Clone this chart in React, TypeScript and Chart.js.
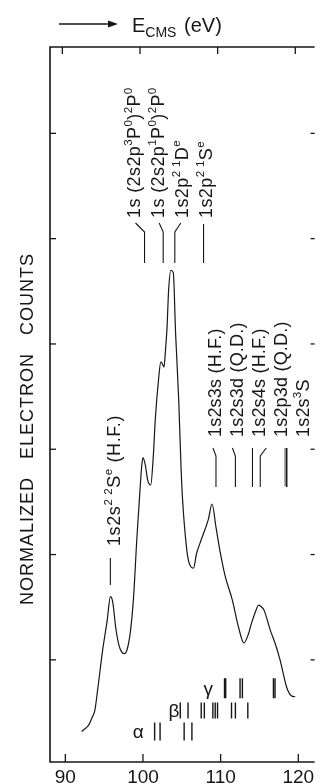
import React, { useEffect, useRef } from "react";
import { Chart, registerables } from "chart.js";

Chart.register(...registerables);

// ---- data ----
const energy = [
  92.1, 92.6, 93.0, 93.5, 93.8, 94.2, 94.8, 95.4, 95.8, 96.1, 96.5, 96.9, 97.3, 97.65,
  98.0, 98.4, 98.8, 99.2, 99.6, 99.85, 100.0, 100.3, 100.6, 101.0, 101.3, 101.6, 102.0,
  102.3, 102.5, 102.7, 102.9, 103.1, 103.3, 103.6, 103.9, 104.2, 104.6, 104.9, 105.1,
  105.6, 105.9, 106.5, 106.9, 107.5, 108.4, 108.9, 109.4, 109.9, 110.6, 111.5, 112.3,
  113.0, 113.6, 113.9, 114.4, 114.9, 115.3, 115.6, 116.4, 117.0, 117.65, 118.5, 119.1, 119.6,
];
const counts = [
  0.32, 0.35, 0.38, 0.46, 0.52, 0.74, 1.09, 1.38, 1.6, 1.55, 1.3, 1.14, 1.07, 1.06,
  1.11, 1.28, 1.61, 2.14, 2.6, 2.85, 2.92, 2.85, 2.71, 2.66, 2.9, 3.3, 3.66,
  3.83, 3.81, 3.78, 3.94, 4.16, 4.51, 4.7, 4.68, 4.1, 3.47, 2.83, 2.52,
  2.07, 1.93, 1.87, 2.01, 2.14, 2.33, 2.48, 2.26, 2.04, 1.79, 1.57, 1.31,
  1.16, 1.25, 1.33, 1.44, 1.52, 1.5, 1.47, 1.28, 1.16, 1.0, 0.74, 0.66, 0.65,
];

const xTicks = [90, 100, 110, 120];
const yTicks = [1, 2, 3, 4, 5, 6];

const alphaLines = [101.5, 102.2, 105.3, 106.3];
const betaLines = [104.8, 105.8, 107.5, 107.9, 109.0, 109.3, 109.6, 111.4, 111.9, 113.5];
const gammaLines = [110.5, 110.65, 112.5, 112.8, 116.8, 117.0];
const rowNames = ["α", "β", "γ"];
const rowLevels = [0.32, 0.52, 0.73];
const rowLabelEnergies = [99.4, 104.0, 108.4];

const upperLevelNames = [
  "1s (2s2p^{3}P^{0})^{2}P^{0}",
  "1s (2s2p^{1}P^{0})^{2}P^{0}",
  "1s2p^{2 1}D^{e}",
  "1s2p^{2 1}S^{e}",
];
const upperLevelEnergies = [100.2, 102.6, 104.1, 107.8];
const lowerLevelNames = [
  "1s2s3s (H.F.)",
  "1s2s3d (Q.D.)",
  "1s2s4s (H.F.)",
  "1s2p3d (Q.D.)",
  "1s2s^{3}S",
];
const lowerLevelEnergies = [109.4, 111.9, 114.1, 115.1, 118.5];
const groundName = "1s2s^{2 2}S^{e} (H.F.)";
const groundEnergy = 95.8;

const xTitle = "E_{CMS} (eV)";
const yTitle = "NORMALIZED   ELECTRON   COUNTS";

// ---- drawing helpers ----
const INK = "#161616";
const FONT = '"Liberation Sans", Arial, sans-serif';

type Seg = { t: string; m: number };
function parseRich(s: string): Seg[] {
  const out: Seg[] = [];
  let buf = "";
  let i = 0;
  while (i < s.length) {
    if ((s[i] === "^" || s[i] === "_") && s[i + 1] === "{") {
      if (buf) {
        out.push({ t: buf, m: 0 });
        buf = "";
      }
      const end = s.indexOf("}", i);
      out.push({ t: s.slice(i + 2, end), m: s[i] === "^" ? 1 : 2 });
      i = end + 1;
    } else {
      buf += s[i];
      i++;
    }
  }
  if (buf) out.push({ t: buf, m: 0 });
  return out;
}

function drawRich(
  ctx: CanvasRenderingContext2D,
  s: string,
  x: number,
  y: number,
  size: number,
  rotate: boolean,
  smallScale = 0.64,
  spacing = 0
) {
  ctx.save();
  ctx.translate(x, y);
  if (rotate) ctx.rotate(-Math.PI / 2);
  ctx.textAlign = "left";
  ctx.textBaseline = "alphabetic";
  (ctx as any).letterSpacing = `${spacing}px`;
  let cx = 0;
  for (const sg of parseRich(s)) {
    const fs = sg.m === 0 ? size : size * smallScale;
    ctx.font = `${fs}px ${FONT}`;
    const dy = sg.m === 1 ? -size * 0.42 : sg.m === 2 ? size * 0.25 : 0;
    ctx.fillText(sg.t, cx, dy);
    cx += ctx.measureText(sg.t).width + (sg.m === 2 ? 2 : 0);
  }
  ctx.restore();
}

function seg(ctx: CanvasRenderingContext2D, pts: number[][]) {
  ctx.beginPath();
  ctx.moveTo(pts[0][0], pts[0][1]);
  for (let i = 1; i < pts.length; i++) ctx.lineTo(pts[i][0], pts[i][1]);
  ctx.stroke();
}

// leader bends (pixel offset of the leader's top end from its level)
const upperBend = [-9, -4, 6, 0];
const lowerBend = [-3, -3, 0, 6, 0];

const paperPlugin = {
  id: "paper",
  afterDatasetsDraw(chart: any) {
    const { ctx, chartArea: a, scales } = chart;
    const x = scales.x;
    const y = scales.y;
    ctx.save();
    ctx.strokeStyle = INK;
    ctx.fillStyle = INK;
    ctx.lineCap = "butt";

    // frame (right side lies outside the picture)
    ctx.lineWidth = 1.6;
    seg(ctx, [
      [a.right, a.top],
      [a.left, a.top],
      [a.left, a.bottom],
      [a.right, a.bottom],
    ]);

    // ticks
    ctx.lineWidth = 1.3;
    for (const t of xTicks) {
      const px = x.getPixelForValue(t);
      seg(ctx, [[px, a.bottom], [px, a.bottom - 8]]);
      seg(ctx, [[px - 3, a.top], [px - 3, a.top + 7]]);
    }
    for (const t of yTicks) {
      const py = y.getPixelForValue(t);
      seg(ctx, [[a.left, py], [a.left + 6, py]]);
      seg(ctx, [[a.right - 4, py], [a.right, py]]);
    }

    // tick labels
    ctx.font = `19px ${FONT}`;
    ctx.textAlign = "center";
    ctx.textBaseline = "alphabetic";
    for (const t of xTicks) {
      ctx.fillText(String(t), x.getPixelForValue(t), a.bottom + 21);
    }

    // x title with arrow
    ctx.lineWidth = 1.3;
    seg(ctx, [[59, 24], [110, 24]]);
    ctx.beginPath();
    ctx.moveTo(118, 24);
    ctx.lineTo(108, 20.5);
    ctx.lineTo(108, 27.5);
    ctx.closePath();
    ctx.fill();
    drawRich(ctx, xTitle, 132, 32, 20, false, 0.7);

    // y title
    ctx.save();
    ctx.translate(33, 429);
    ctx.rotate(-Math.PI / 2);
    ctx.font = `18px ${FONT}`;
    (ctx as any).letterSpacing = "1px";
    ctx.textAlign = "center";
    ctx.textBaseline = "alphabetic";
    ctx.fillText(yTitle, 0, 0);
    ctx.restore();

    // upper level labels + leaders
    ctx.lineWidth = 1.1;
    upperLevelEnergies.forEach((e, i) => {
      const ex = x.getPixelForValue(e);
      const col = 140 + i * 24;
      drawRich(ctx, upperLevelNames[i], col, 218, 18, true, 0.64, 0.4);
      const b = upperBend[i];
      if (b === 0) seg(ctx, [[ex, 224], [ex, 263]]);
      else seg(ctx, [[ex + b, 223], [ex, 232], [ex, 263]]);
    });

    // lower level labels + leaders
    lowerLevelEnergies.forEach((e, i) => {
      const ex = x.getPixelForValue(e);
      const col = 221 + i * 22;
      drawRich(ctx, lowerLevelNames[i], col, 437, 18, true, 0.64, 0.2);
      if (i === lowerLevelEnergies.length - 1) {
        ctx.lineWidth = 1.6;
        seg(ctx, [[ex, 448], [ex, 487]]);
        ctx.lineWidth = 0.8;
        for (let yy = 449; yy < 487; yy += 2) seg(ctx, [[ex - 2.5, yy], [ex, yy]]);
        ctx.lineWidth = 1.1;
      } else {
        const b = lowerBend[i];
        if (b === 0) seg(ctx, [[ex, 448], [ex, 487]]);
        else seg(ctx, [[ex + b, 448], [ex, 456], [ex, 487]]);
      }
    });

    // ground level label + marker
    const gx = x.getPixelForValue(groundEnergy);
    drawRich(ctx, groundName, 120, 546, 18, true, 0.64, 0.6);
    seg(ctx, [[gx, 558], [gx, 585]]);

    // row letters
    ctx.font = `19px ${FONT}`;
    ctx.textAlign = "center";
    ctx.textBaseline = "middle";
    rowNames.forEach((n, i) => {
      ctx.fillText(n, x.getPixelForValue(rowLabelEnergies[i]), y.getPixelForValue(rowLevels[i]) + 1);
    });

    ctx.restore();
  },
};

export default function App() {
  const ref = useRef<HTMLCanvasElement | null>(null);
  useEffect(() => {
    document.body.style.margin = "0";
    const canvas = ref.current;
    if (!canvas) return;
    const rows = [alphaLines, betaLines, gammaLines];
    const radii = [9, 8, 10];
    const chart = new Chart(canvas, {
      type: "line",
      data: {
        datasets: [
          {
            data: energy.map((e, i) => ({ x: e, y: counts[i] })),
            borderColor: INK,
            borderWidth: 1.2,
            pointRadius: 0,
            cubicInterpolationMode: "monotone",
            fill: false,
          },
          ...rows.map((r, k) => ({
            type: "scatter" as const,
            data: r.map((e) => ({ x: e, y: rowLevels[k] })),
            pointStyle: "line" as const,
            rotation: 90,
            pointRadius: radii[k],
            borderColor: INK,
            borderWidth: 1.4,
            showLine: false,
          })),
        ],
      },
      options: {
        responsive: false,
        animation: false,
        devicePixelRatio: 1,
        layout: { padding: { left: 50, right: 0, top: 47, bottom: 22 } },
        plugins: {
          legend: { display: false },
          tooltip: { enabled: false },
          title: { display: false },
        },
        events: [],
        scales: {
          x: { type: "linear", min: 88.025, max: 122.1, display: false },
          y: { type: "linear", min: 0.03, max: 6.82, display: false },
        },
      },
      plugins: [paperPlugin],
    } as any);
    return () => chart.destroy();
  }, []);
  return (
    <div style={{ width: 326, height: 784, overflow: "hidden", background: "#fff" }}>
      <canvas ref={ref} width={326} height={784} style={{ display: "block" }} />
    </div>
  );
}
